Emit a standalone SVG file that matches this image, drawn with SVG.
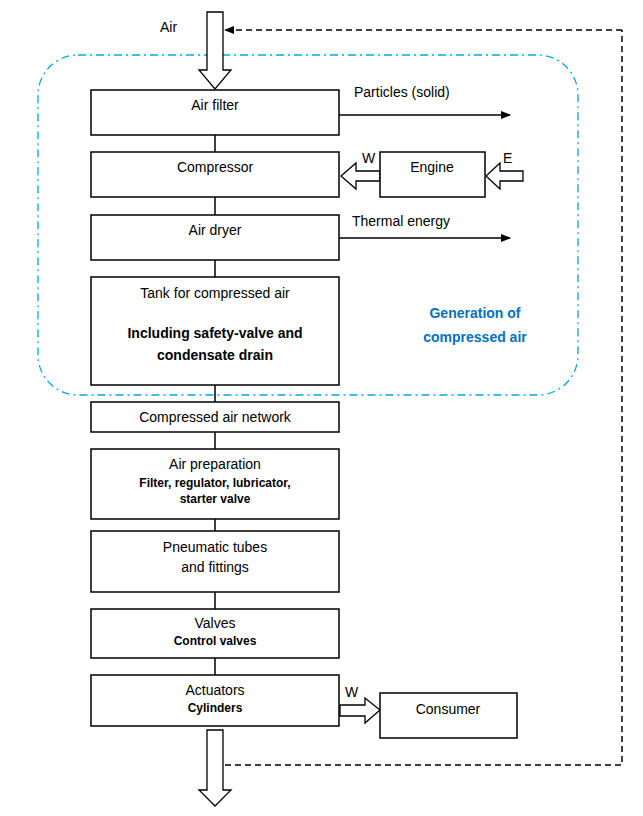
<svg xmlns="http://www.w3.org/2000/svg" width="643" height="816" viewBox="0 0 643 816">
<style>
.b{fill:#fff;stroke:#000;stroke-width:1.5}
.t{font-family:"Liberation Sans",Arial,sans-serif;font-size:14px;text-anchor:middle;fill:#000}
.s{font-family:"Liberation Sans",Arial,sans-serif;font-size:12px;font-weight:bold;text-anchor:middle;fill:#000}
.h{fill:#fff;stroke:#000;stroke-width:1.3}
.l{stroke:#000;stroke-width:1.5;fill:none}
</style>
<defs>
<marker id="a" markerWidth="10" markerHeight="8" refX="9" refY="4" orient="auto" markerUnits="userSpaceOnUse"><path d="M0,0L10,4L0,8z" fill="#000"/></marker>
</defs>
<rect x="38" y="55" width="540" height="340" rx="40" fill="none" stroke="#00a8e8" stroke-width="1.3" stroke-dasharray="8,4,2,4"/>
<text x="475" y="318" class="t" style="fill:#0070c0;font-weight:bold">Generation of</text>
<text x="475" y="342" class="t" style="fill:#0070c0;font-weight:bold">compressed air</text>
<g id="connectors">
<path class="l" d="M215,135V152M215,197V215M215,260V277M215,385V402M215,432V449M215,519V531M215,592V609M215,658V675"/>
<path class="l" d="M339,115H510" marker-end="url(#a)"/>
<path class="l" d="M339,238H510" marker-end="url(#a)"/>
<path d="M622,30H225" fill="none" stroke="#000" stroke-width="1.5" stroke-dasharray="6,4" marker-end="url(#a)"/>
<path d="M225,765H622V30" fill="none" stroke="#000" stroke-width="1.5" stroke-dasharray="6,4"/>
<path class="h" d="M207,12H223V70H231L215,89L199,70H207Z"/>
<path class="h" d="M207,730H223V790H231L215,806L199,790H207Z"/>
<path class="h" d="M380,171V181H356V189L341,176L356,163V171Z"/>
<path class="h" d="M523,171V181H500V189L486,176L500,163V171Z"/>
<path class="h" d="M340,705V716H365V723L380,710L365,698V705Z"/>
<text x="362" y="163" class="t" style="text-anchor:start">W</text>
<text x="503" y="163" class="t" style="text-anchor:start">E</text>
<text x="345" y="697" class="t" style="text-anchor:start">W</text>
<text x="160" y="32" class="t" style="text-anchor:start">Air</text>
<text x="354" y="97" class="t" style="text-anchor:start">Particles (solid)</text>
<text x="352" y="226" class="t" style="text-anchor:start">Thermal energy</text>
</g>
<g id="filter"><rect class="b" x="91" y="90" width="248" height="45"/><text x="215" y="110" class="t">Air filter</text></g>
<g id="compressor"><rect class="b" x="91" y="152" width="248" height="45"/><text x="215" y="172" class="t">Compressor</text></g>
<g id="engine"><rect class="b" x="380" y="152" width="105" height="45"/><text x="432" y="172" class="t">Engine</text></g>
<g id="dryer"><rect class="b" x="91" y="215" width="248" height="45"/><text x="215" y="235" class="t">Air dryer</text></g>
<g id="tank"><rect class="b" x="91" y="277" width="248" height="108"/><text x="215" y="298" class="t">Tank for compressed air</text><text x="215" y="338" class="t" style="font-weight:bold">Including safety-valve and</text><text x="215" y="360" class="t" style="font-weight:bold">condensate drain</text></g>
<g id="network"><rect class="b" x="91" y="402" width="248" height="30"/><text x="215" y="422" class="t">Compressed air network</text></g>
<g id="prep"><rect class="b" x="91" y="449" width="248" height="70"/><text x="215" y="469" class="t">Air preparation</text><text x="215" y="487" class="s">Filter, regulator, lubricator,</text><text x="215" y="503" class="s">starter valve</text></g>
<g id="tubes"><rect class="b" x="91" y="531" width="248" height="61"/><text x="215" y="552" class="t">Pneumatic tubes</text><text x="215" y="572" class="t">and fittings</text></g>
<g id="valves"><rect class="b" x="91" y="609" width="248" height="49"/><text x="215" y="628" class="t">Valves</text><text x="215" y="645" class="s">Control valves</text></g>
<g id="actuators"><rect class="b" x="91" y="675" width="248" height="51"/><text x="215" y="695" class="t">Actuators</text><text x="215" y="712" class="s">Cylinders</text></g>
<g id="consumer"><rect class="b" x="380" y="693" width="137" height="45"/><text x="448" y="714" class="t">Consumer</text></g>
</svg>
